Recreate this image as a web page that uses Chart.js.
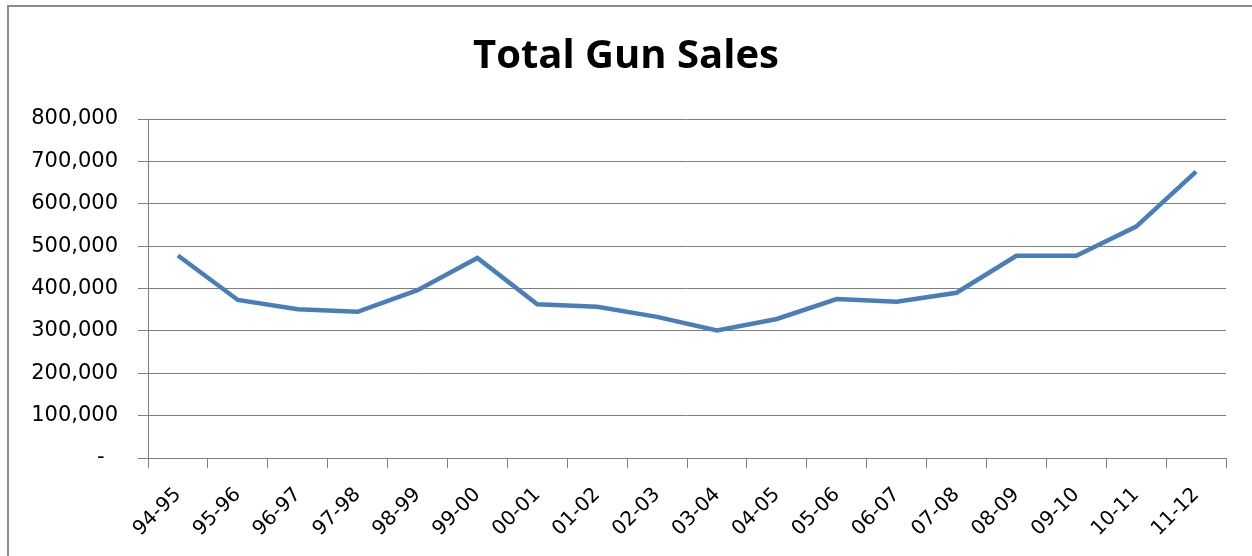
<!DOCTYPE html>
<html>
<head>
<meta charset="utf-8">
<script src="https://cdn.jsdelivr.net/npm/chart.js@4"></script>
<style>
  html, body { margin: 0; padding: 0; background: #fff; overflow: hidden; }
  #wrap { position: relative; width: 1252px; height: 556px; }
  #frame {
    position: absolute; left: 7px; top: 5px;
    width: 1400px; height: 700px;
    border-left: 2px solid #8c8c8c; border-top: 2px solid #8c8c8c;
  }
  #chart { position: absolute; left: 0; top: 0; }
</style>
</head>
<body>
<div id="wrap">
  <div id="frame"></div>
  <canvas id="chart" width="1252" height="556"></canvas>
</div>
<script>
// ---------------------------------------------------------------------------
//  Data
// ---------------------------------------------------------------------------

const seasons = [
  '94-95', '95-96', '96-97', '97-98', '98-99', '99-00', '00-01', '01-02', '02-03',
  '03-04', '04-05', '05-06', '06-07', '07-08', '08-09', '09-10', '10-11', '11-12',
];

const gunSales = [
  478000, 373000, 351000, 345000, 396000, 472000, 363000, 357000, 333000,
  301000, 328000, 375000, 369000, 390000, 477000, 477000, 546000, 676000,
];

const yTicks = [0, 100000, 200000, 300000, 400000, 500000, 600000, 700000, 800000];

const AXIS_GREY = '#7f7f7f';
const FONT = 'DejaVu Sans';

// Excel accounting style: zero is shown as a dash
function fmtTick(v) {
  if (v === 0) return '-  ';
  return v.toLocaleString('en-US');
}

new Chart(document.getElementById('chart'), {
  type: 'line',
  data: {
    labels: seasons,
    datasets: [{
      label: 'Total Gun Sales',
      data: gunSales,
      borderColor: '#4a7ebb',
      borderWidth: 4.5,
      pointRadius: 0,
      tension: 0,
      fill: false,
    }],
  },
  options: {
    responsive: false,
    animation: false,
    devicePixelRatio: 1,
    // left padding + y axis width = 148; y labels are clipped to the axis box
    layout: { padding: { left: 26, right: 26, top: 0, bottom: 0 } },
    plugins: {
      legend: { display: false },
      tooltip: { enabled: false },
      title: {
        display: true,
        text: 'Total Gun Sales',
        color: '#000',
        font: { family: 'Open Sans', size: 40, weight: 'bold', lineHeight: 1.2 },
        padding: { top: 33, bottom: 38 },
      },
    },
    scales: {
      x: {
        offset: true,
        grid: {
          offset: true,
          drawOnChartArea: false,
          drawTicks: true,
          tickLength: 10,
          color: AXIS_GREY,
        },
        border: { color: AXIS_GREY, width: 1 },
        ticks: {
          autoSkip: false,
          maxRotation: 45,
          minRotation: 45,
          color: '#000',
          font: { family: FONT, size: 20 },
          padding: 15,
        },
        afterFit: s => { s.height = 98; },
      },
      y: {
        min: 0,
        max: 800000,
        afterBuildTicks: s => { s.ticks = yTicks.map(v => ({ value: v })); },
        grid: { color: AXIS_GREY, tickLength: 10, drawTicks: true },
        border: { color: AXIS_GREY, width: 1 },
        ticks: {
          color: '#000',
          font: { family: FONT, size: 21 },
          padding: 20,
          callback: v => fmtTick(v),
        },
        afterFit: s => { s.width = 122; },
      },
    },
  },
});
</script>
</body>
</html>
